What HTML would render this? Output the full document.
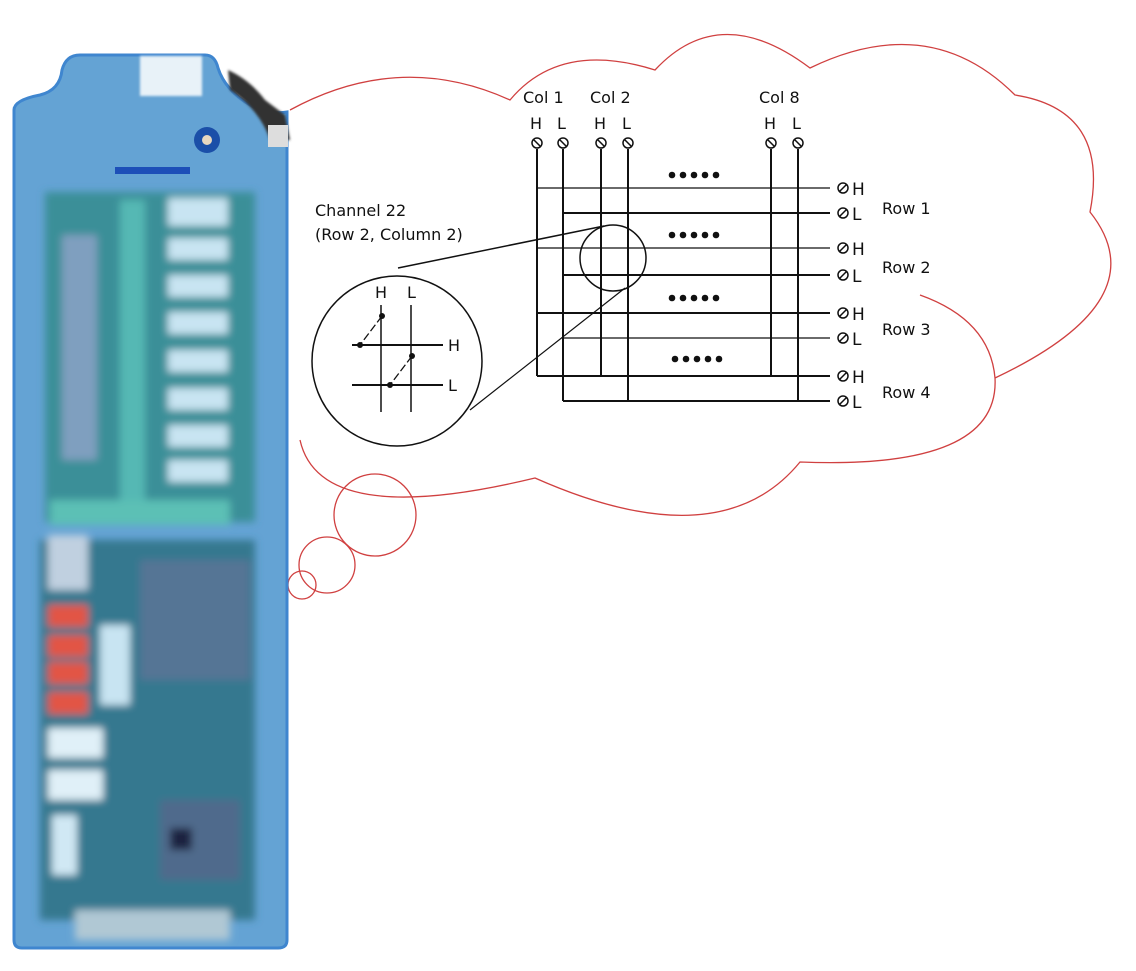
<!DOCTYPE html>
<html><head><meta charset="utf-8"><style>
body{margin:0;background:#fff;width:1136px;height:971px;overflow:hidden}
svg{display:block}
text{font-family:"DejaVu Sans","Liberation Sans",sans-serif;fill:#111}
</style></head><body>
<svg width="1136" height="971" viewBox="0 0 1136 971" xmlns="http://www.w3.org/2000/svg">
<defs>
<filter id="bl" x="-10%" y="-10%" width="120%" height="120%"><feGaussianBlur stdDeviation="4"/></filter>
<filter id="bl2"><feGaussianBlur stdDeviation="1.2"/></filter>
</defs>
<!-- cloud -->
<g fill="none" stroke="#d04040" stroke-width="1.3">
<path d="M290,110 Q400,50 510,100 Q560,40 655,70 Q720,0 810,68 Q930,10 1015,95 Q1110,110 1090,212 Q1160,300 995,378 M920,295 Q990,320 995,378 Q1000,470 800,462 Q720,560 535,478 Q320,530 300,440"/>
<circle cx="375" cy="515" r="41"/>
<circle cx="327" cy="565" r="28"/>
<circle cx="302" cy="585" r="14"/>
</g>
<!-- board -->
<g>
<path d="M14,110 Q14,100 40,95 Q60,90 62,70 Q66,55 80,55 L205,55 Q215,55 218,68 Q225,90 250,105 Q270,115 287,112 L287,940 Q287,948 278,948 L22,948 Q14,948 14,940 Z" fill="#64a3d4" stroke="#3f86cf" stroke-width="3"/>
<rect x="140" y="56" width="62" height="40" fill="#e8f2f8" filter="url(#bl2)"/>
<path d="M228,70 Q250,80 265,100 L285,115 L290,140 L270,140 Q260,110 230,90Z" fill="#333" filter="url(#bl2)"/>
<rect x="268" y="125" width="20" height="22" fill="#ddd"/>
<circle cx="207" cy="140" r="13" fill="#1b4fa8"/><circle cx="207" cy="140" r="5" fill="#e8d8c0"/>
<rect x="115" y="167" width="75" height="7" fill="#1d4fb8"/>
<g filter="url(#bl)">
<rect x="45" y="192" width="210" height="330" fill="#3a8f98"/>
<rect x="62" y="235" width="35" height="225" fill="#7f9fbf"/>
<rect x="120" y="200" width="25" height="300" fill="#55b8b4"/>
<g fill="#c8e4f2"><rect x="168" y="198" width="60" height="28"/><rect x="168" y="238" width="60" height="22"/><rect x="168" y="275" width="60" height="22"/><rect x="168" y="312" width="60" height="22"/><rect x="168" y="350" width="60" height="22"/><rect x="168" y="388" width="60" height="22"/><rect x="168" y="425" width="60" height="22"/><rect x="168" y="460" width="60" height="22"/></g>
<rect x="50" y="500" width="180" height="25" fill="#5cc0b5"/>
<rect x="40" y="540" width="215" height="380" fill="#35788f"/>
<rect x="48" y="535" width="40" height="55" fill="#c0d0e0"/>
<g fill="#e25545"><rect x="48" y="605" width="40" height="22"/><rect x="48" y="635" width="40" height="22"/><rect x="48" y="662" width="40" height="22"/><rect x="48" y="692" width="40" height="22"/></g>
<rect x="100" y="625" width="30" height="80" fill="#c8e4f2"/>
<rect x="48" y="728" width="55" height="30" fill="#e0f0f8"/>
<rect x="48" y="770" width="55" height="30" fill="#e0f0f8"/>
<rect x="52" y="815" width="25" height="60" fill="#d0e8f4"/>
<rect x="140" y="560" width="110" height="120" fill="#557595"/>
<rect x="160" y="800" width="80" height="80" fill="#4f6b8c"/>
<rect x="170" y="828" width="22" height="22" fill="#1a2240"/>
<rect x="75" y="910" width="155" height="30" fill="#b0c8d4"/>
</g>
</g>
<!-- matrix -->
<g stroke="#111" stroke-width="2" fill="none">
<line x1="537" y1="149" x2="537" y2="376"/><line x1="563" y1="149" x2="563" y2="401"/>
<line x1="601" y1="149" x2="601" y2="376"/><line x1="628" y1="149" x2="628" y2="401"/>
<line x1="771" y1="149" x2="771" y2="376"/><line x1="798" y1="149" x2="798" y2="401"/>
<line x1="537" y1="188" x2="830" y2="188" stroke-width="1.3"/><line x1="563" y1="213" x2="830" y2="213"/>
<line x1="537" y1="248" x2="830" y2="248" stroke-width="1.3"/><line x1="563" y1="275" x2="830" y2="275"/>
<line x1="537" y1="313" x2="830" y2="313"/><line x1="563" y1="338" x2="830" y2="338" stroke-width="1.3"/>
<line x1="537" y1="376" x2="830" y2="376"/><line x1="563" y1="401" x2="830" y2="401"/>
<g stroke-width="1.5"><circle cx="537" cy="143" r="5"/><circle cx="563" cy="143" r="5"/><circle cx="601" cy="143" r="5"/><circle cx="628" cy="143" r="5"/><circle cx="771" cy="143" r="5"/><circle cx="798" cy="143" r="5"/>
<path d="M534,140l6,6M560,140l6,6M598,140l6,6M625,140l6,6M768,140l6,6M795,140l6,6"/></g>
<g stroke-width="1.5"><circle cx="843" cy="188" r="5"/><circle cx="843" cy="213" r="5"/><circle cx="843" cy="248" r="5"/><circle cx="843" cy="275" r="5"/><circle cx="843" cy="313" r="5"/><circle cx="843" cy="338" r="5"/><circle cx="843" cy="376" r="5"/><circle cx="843" cy="401" r="5"/>
<path d="M839,192l8,-8M839,217l8,-8M839,252l8,-8M839,279l8,-8M839,317l8,-8M839,342l8,-8M839,380l8,-8M839,405l8,-8"/></g>
<circle cx="613" cy="258" r="33" stroke-width="1.5"/>
<circle cx="397" cy="361" r="85" stroke-width="1.5"/>
<line x1="398" y1="268" x2="604" y2="226" stroke-width="1.5"/>
<line x1="470" y1="410" x2="625" y2="288" stroke-width="1.2"/>
<line x1="381" y1="305" x2="381" y2="412" stroke-width="1.5"/><line x1="411" y1="305" x2="411" y2="412" stroke-width="1.5"/>
<line x1="352" y1="345" x2="443" y2="345"/><line x1="352" y1="385" x2="443" y2="385"/>
<path d="M382,316L360,345M412,356L390,385" stroke-width="1.3" stroke-dasharray="8,3"/>
</g>
<g fill="#111"><circle cx="382" cy="316" r="3"/><circle cx="360" cy="345" r="3"/><circle cx="412" cy="356" r="3"/><circle cx="390" cy="385" r="3"/>
<g id="d"><circle cx="672" cy="175" r="3.3"/><circle cx="683" cy="175" r="3.3"/><circle cx="694" cy="175" r="3.3"/><circle cx="705" cy="175" r="3.3"/><circle cx="716" cy="175" r="3.3"/></g>
<use href="#d" y="60"/><use href="#d" y="123"/><use href="#d" x="3" y="184"/>
</g>
<g font-size="16">
<text x="523" y="103">Col 1</text><text x="590" y="103">Col 2</text><text x="759" y="103">Col 8</text>
<text x="530" y="129">H</text><text x="557" y="129">L</text><text x="594" y="129">H</text><text x="622" y="129">L</text><text x="764" y="129">H</text><text x="792" y="129">L</text>
<g font-size="17"><text x="852" y="195">H</text><text x="852" y="220">L</text><text x="852" y="255">H</text><text x="852" y="282">L</text><text x="852" y="320">H</text><text x="852" y="345">L</text><text x="852" y="383">H</text><text x="852" y="408">L</text></g>
<text x="882" y="214">Row 1</text><text x="882" y="273">Row 2</text><text x="882" y="335">Row 3</text><text x="882" y="398">Row 4</text>
<text x="315" y="216">Channel 22</text><text x="315" y="240">(Row 2, Column 2)</text>
<text x="375" y="298">H</text><text x="407" y="298">L</text><text x="448" y="351">H</text><text x="448" y="391">L</text>
</g>
</svg>
</body></html>
